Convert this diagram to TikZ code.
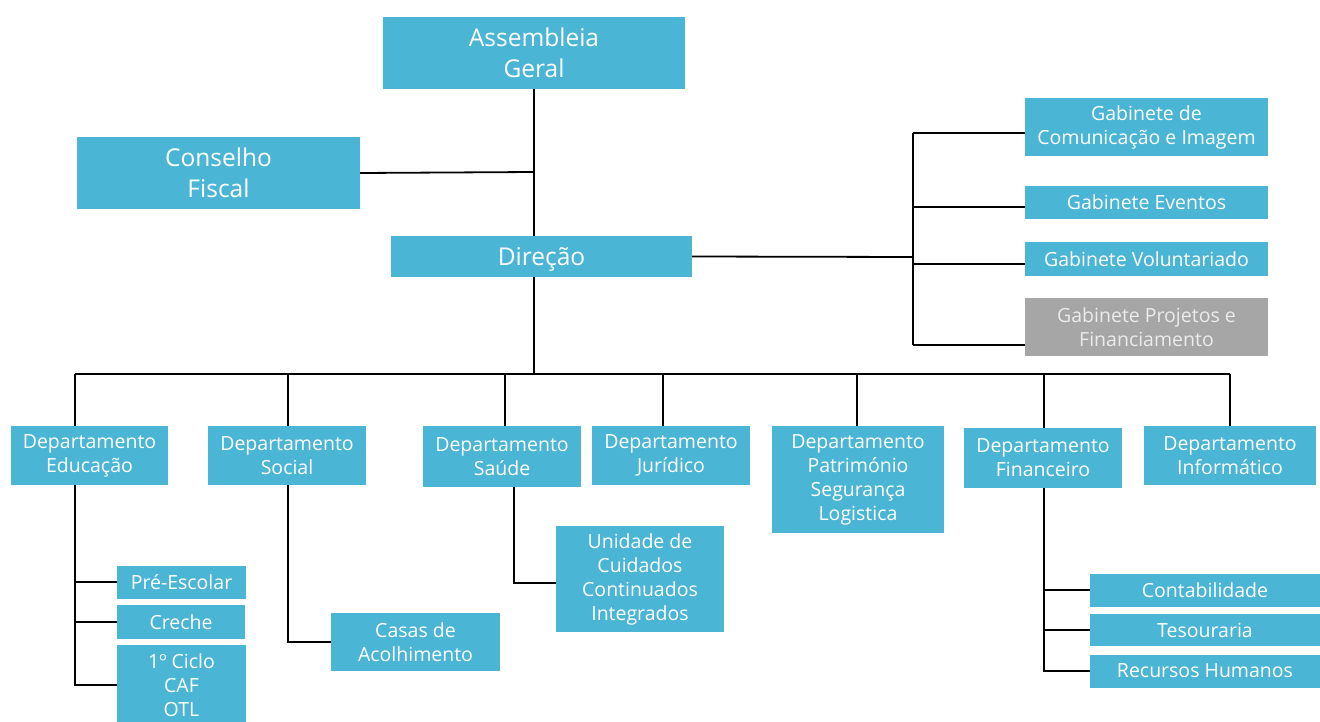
\documentclass[tikz,border=0pt]{standalone}
\usepackage{fontspec}
\setmainfont{Open Sans}
\definecolor{boxblue}{HTML}{4BB5D6}
\definecolor{boxgray}{HTML}{A6A6A6}
\begin{document}
\begin{tikzpicture}[x=1pt,y=-1pt,
  box/.style={fill=boxblue, text=white, align=center, inner sep=0pt,
    font=\fontsize{19.5}{24}\selectfont},
  big/.style={box, font=\fontsize{24.5}{31}\selectfont},
  graybox/.style={box, fill=boxgray, text=white!92!black},
  link/.style={line width=1.8pt, black}]
\useasboundingbox (0,0) rectangle (1320,722);

% top
\node[big, minimum width=302pt, minimum height=72pt] (ag) at (534,53) {Assembleia\\Geral};
\node[big, minimum width=283pt, minimum height=72pt] (cf) at (218.5,173) {Conselho\\Fiscal};
\node[big, minimum width=301pt, minimum height=41pt, text height=18pt, text depth=0pt] (dir) at (541.5,256.5) {Direção};

% gabinetes
\node[box, minimum width=243pt, minimum height=58pt] (gci) at (1146.5,127) {Gabinete de\\Comunicação e Imagem};
\node[box, minimum width=243pt, minimum height=33pt] (ge) at (1146.5,202.5) {Gabinete Eventos};
\node[box, minimum width=243pt, minimum height=34pt] (gv) at (1146.5,259) {Gabinete Voluntariado};
\node[graybox, minimum width=243pt, minimum height=58pt] (gpf) at (1146.5,327) {Gabinete Projetos e\\Financiamento};

% departamentos
\node[box, minimum width=157pt, minimum height=59pt] (dedu) at (89.5,455.5) {Departamento\\Educação};
\node[box, minimum width=158pt, minimum height=59pt] (dsoc) at (287,455.5) {Departamento\\Social};
\node[box, minimum width=158pt, minimum height=61pt] (dsau) at (502,456.5) {Departamento\\Saúde};
\node[box, minimum width=158pt, minimum height=59pt] (djur) at (671,455.5) {Departamento\\Jurídico};
\node[box, minimum width=172pt, minimum height=107pt] (dpat) at (858,479.5) {Departamento\\Património\\Segurança\\Logistica};
\node[box, minimum width=158pt, minimum height=60pt] (dfin) at (1043,458) {Departamento\\Financeiro};
\node[box, minimum width=172pt, minimum height=59pt] (dinf) at (1230,455.5) {Departamento\\Informático};

% sub units
\node[box, minimum width=129pt, minimum height=33pt] (pre) at (181.5,582) {Pré-Escolar};
\node[box, minimum width=128pt, minimum height=34pt] (cre) at (181,622) {Creche};
\node[box, minimum width=129pt, minimum height=80pt] (otl) at (181.5,685) {1º Ciclo\\CAF\\OTL};
\node[box, minimum width=169pt, minimum height=58pt] (casas) at (415.5,642) {Casas de\\Acolhimento};
\node[box, minimum width=168pt, minimum height=106pt] (ucci) at (640,579) {Unidade de\\Cuidados\\Continuados\\Integrados};
\node[box, minimum width=230pt, minimum height=33pt] (cont) at (1205,590) {Contabilidade};
\node[box, minimum width=230pt, minimum height=32pt] (tes) at (1205,630) {Tesouraria};
\node[box, minimum width=230pt, minimum height=33pt] (rh) at (1205,671) {Recursos Humanos};

% top connectors
\draw[link] (ag.south) -- (ag.south |- dir.north);
\coordinate (cfj) at (534,172);
\draw[link] (cf.east) -- (cfj);

% gabinete connectors
\coordinate (gb) at (913,257);
\coordinate (g1) at (913,133);
\coordinate (g2) at (913,207);
\coordinate (g3) at (913,264);
\coordinate (g4) at (913,345);
\draw[link] (dir.east) -- (gb);
\draw[link] (g1) -- (g4);
\draw[link] (g1) -- (g1 -| gci.west);
\draw[link] (g2) -- (g2 -| ge.west);
\draw[link] (g3) -- (g3 -| gv.west);
\draw[link] (g4) -- (g4 -| gpf.west);

% department bus
\coordinate (db) at (534,374);
\coordinate (d1) at (75,374);
\coordinate (d2) at (288,374);
\coordinate (d3) at (505,374);
\coordinate (d4) at (663,374);
\coordinate (d5) at (857,374);
\coordinate (d6) at (1044,374);
\coordinate (d7) at (1230,374);
\draw[link] (ag.south |- dir.south) -- (db);
\draw[link] (d1) -- (d7);
\draw[link] (d1) -- (d1 |- dedu.north);
\draw[link] (d2) -- (d2 |- dsoc.north);
\draw[link] (d3) -- (d3 |- dsau.north);
\draw[link] (d4) -- (d4 |- djur.north);
\draw[link] (d5) -- (d5 |- dpat.north);
\draw[link] (d6) -- (d6 |- dfin.north);
\draw[link] (d7) -- (d7 |- dinf.north);

% sub connectors
\coordinate (ev) at (75,0);
\draw[link] (ev |- dedu.south) -- (ev |- otl.west) -- (otl.west);
\draw[link] (ev |- pre.west) -- (pre.west);
\draw[link] (ev |- cre.west) -- (cre.west);

\coordinate (sv) at (288,0);
\draw[link] (sv |- dsoc.south) -- (sv |- casas.west) -- (casas.west);

\coordinate (hv) at (514,583);
\draw[link] (hv |- dsau.south) -- (hv) -- (hv -| ucci.west);

\coordinate (fv) at (1044,0);
\draw[link] (fv |- dfin.south) -- (fv |- rh.west) -- (rh.west);
\draw[link] (fv |- cont.west) -- (cont.west);
\draw[link] (fv |- tes.west) -- (tes.west);
\end{tikzpicture}
\end{document}
